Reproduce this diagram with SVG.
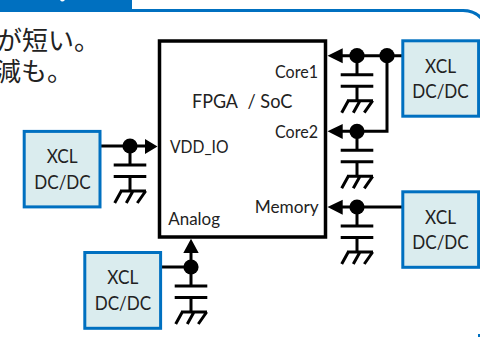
<svg xmlns="http://www.w3.org/2000/svg" width="480" height="337" viewBox="0 0 480 337">
<style>
.w{stroke:#000;stroke-width:3;fill:none}
.b{fill:#daecee;stroke:#0070c0;stroke-width:3}
.t{font-family:Lato,"Open Sans",sans-serif;font-size:17px;fill:#222}
.x{font-size:19px;text-anchor:start}
.j{font-family:"Noto Sans CJK JP",sans-serif;font-size:26px;fill:#222}
</style>
<defs>
<g id="cap"><path class="w" d="M0 0V19M-16.3 19H16.3M-16.3 30.5H16.3M0 30.5V45M-10 45H16M-8.7 45L-15.3 57M3 45L-3.7 57M15.7 45L7.3 57"/></g>
</defs>
<rect x="0" y="0" width="132" height="10" fill="#0070c0"/>
<path d="M60 0Q62 3 65 0Z" fill="#fff"/>
<path d="M0 10.5H463Q474 10.5 481 18" fill="none" stroke="#0070c0" stroke-width="3.2"/>
<rect x="478" y="334" width="2" height="3" fill="#0070c0"/>
<text class="j" x="-4" y="50">が短い。</text>
<text class="j" x="-5" y="81">減も。</text>
<g id="fpga"><rect x="159.5" y="41" width="166" height="196" fill="#fff" stroke="#000" stroke-width="3.5"/>
<text class="t" x="192" y="108" style="font-size:19px" textLength="46" lengthAdjust="spacingAndGlyphs">FPGA</text>
<text class="t" x="247.5" y="108" style="font-size:19px" textLength="45" lengthAdjust="spacingAndGlyphs">/ SoC</text>
<text class="t" x="275" y="77.5" textLength="43" lengthAdjust="spacingAndGlyphs">Core1</text>
<text class="t" x="275" y="138" textLength="43" lengthAdjust="spacingAndGlyphs">Core2</text>
<text class="t" x="170" y="152.7" textLength="58.5" lengthAdjust="spacingAndGlyphs">VDD_IO</text>
<text class="t" x="254.7" y="212.7" textLength="64" lengthAdjust="spacingAndGlyphs">Memory</text>
<text class="t" x="168.3" y="225.3" textLength="51.7" lengthAdjust="spacingAndGlyphs">Analog</text></g>
<g id="connectors">
<path class="w" d="M100 146H150M402 55.7H338M387 55.7V131.3H338M402 207H338M161 267H191V245"/>
<use href="#cap" x="130" y="146"/><use href="#cap" x="357" y="55.7"/><use href="#cap" x="357" y="131.3"/><use href="#cap" x="357" y="207"/><use href="#cap" x="191" y="267"/>
<path d="M157.5 146.5L145 139V154ZM327.5 55.7L342.7 48.3V63.3ZM327.5 131.3L342.7 124V139ZM327.5 207L342.7 199.7V214.7ZM191 238.7L183.3 253H198.7Z"/>
<circle cx="130" cy="146" r="7.6"/><circle cx="357" cy="55.7" r="7.6"/><circle cx="387" cy="55.7" r="7.6"/><circle cx="357" cy="131.3" r="7.6"/><circle cx="357" cy="207" r="7.6"/><circle cx="191" cy="267" r="7.6"/>
</g>
<g id="xcl1"><rect class="b" x="402.8" y="40.8" width="75.8" height="75.4"/><text class="t x" x="425" y="72.7" textLength="31" lengthAdjust="spacingAndGlyphs">XCL</text><text class="t x" x="412.3" y="98" textLength="56.4" lengthAdjust="spacingAndGlyphs">DC/DC</text></g>
<g id="xcl2"><rect class="b" x="402.8" y="191.8" width="75.8" height="75.5"/><text class="t x" x="425" y="223.7" textLength="31" lengthAdjust="spacingAndGlyphs">XCL</text><text class="t x" x="412.3" y="249.3" textLength="56.4" lengthAdjust="spacingAndGlyphs">DC/DC</text></g>
<g id="xcl3"><rect class="b" x="24.2" y="131.4" width="75.8" height="75.5"/><text class="t x" x="46.7" y="163.3" textLength="31" lengthAdjust="spacingAndGlyphs">XCL</text><text class="t x" x="34.3" y="189" textLength="56.4" lengthAdjust="spacingAndGlyphs">DC/DC</text></g>
<g id="xcl4"><rect class="b" x="84.8" y="252.5" width="75.8" height="75.8"/><text class="t x" x="107.3" y="283.7" textLength="31" lengthAdjust="spacingAndGlyphs">XCL</text><text class="t x" x="94.7" y="309.7" textLength="56.4" lengthAdjust="spacingAndGlyphs">DC/DC</text></g>
</svg>
